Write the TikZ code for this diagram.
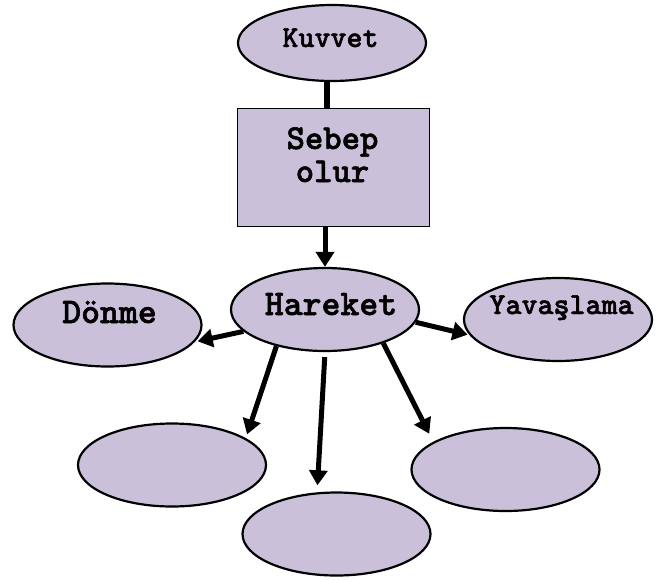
\documentclass[tikz,border=0pt]{standalone}
\usepackage{fontspec}
\newfontfamily\monob{lmmonolt10-bold.otf}[FakeBold=1.5]
\usepackage{tikz}
\usetikzlibrary{positioning,shapes.geometric,arrows.meta}
\definecolor{lila}{RGB}{203,192,218}
\newcommand*{\kw}[1]{\monob\fontsize{#1}{33}\selectfont}

\begin{document}
\begin{tikzpicture}[x=1pt,y=-1pt,
  oval/.style={draw,ellipse,line width=2.2pt,fill=lila,inner sep=0pt,
               minimum width=188pt,minimum height=83pt},
  word/.style={anchor=base,inner sep=0pt},
  arr/.style={line width=5pt,-{Triangle[length=15pt,width=18pt]}}]
\useasboundingbox (0,0) rectangle (666,579);
% Centres of the ovals, top one is (k), middle one is (h)
\coordinate (k) at (332,43);
\coordinate (h) at (325,309.5);
\coordinate (d) at (107.5,325);
\coordinate (y) at (558,319.5);
% Empty ovals under the middle one
\coordinate (bl) at (172,465);
\coordinate (bm) at (336.5,534);
\coordinate (br) at (505.5,469.5);
% Draw the ovals
\node [oval,minimum height=76pt] (kuvvet) at (k) {};
\node [oval] (hareket) at (h) {};
\node [oval] (donme) at (d) {};
\node [oval] (yavas) at (y) {};
\node [oval] (sol) at (bl) {};
\node [oval] (orta) at (bm) {};
\node [oval] (sag) at (br) {};
% The box in between
\node [draw,line width=1pt,fill=lila,minimum width=192pt,minimum height=118pt,inner sep=0pt]
  (sebep) at (333.5,167.5) {};
% Words, placed on their baselines (last line for the box)
\node [word,font=\kw{30.5}] (kuvvet-t) at (330.5,47) {Kuvvet};
\node [word,align=center,font=\kw{35}] (sebep-t) at (332.5,182) {Sebep\\olur};
\node [word,font=\kw{36}] (hareket-t) at (331,315) {Hareket};
\node [word,font=\kw{36}] (donme-t) at (109.5,323) {Dönme};
\node [word,font=\kw{30.5}] (yavas-t) at (561.5,314) {Yavaşlama};
% Plain line from the top oval to the box
\draw [line width=6pt] (kuvvet.263) -- (kuvvet.263 |- sebep.north);
% Arrows
\draw [arr] (hareket.north |- sebep.south) -- (hareket.north);
\draw [arr,shorten >=3pt] (hareket.195) -- (donme.349);
\draw [arr,shorten >=2pt] (hareket.352) -- (yavas.190);
\draw [arr,shorten >=4pt] (hareket.217) -- (sol.20);
\draw [arr,shorten <=5pt,shorten >=7pt] (hareket.270) -- (orta.115);
\draw [arr,shorten >=9pt] (hareket.330) -- (sag.159);
\end{tikzpicture}
\end{document}
